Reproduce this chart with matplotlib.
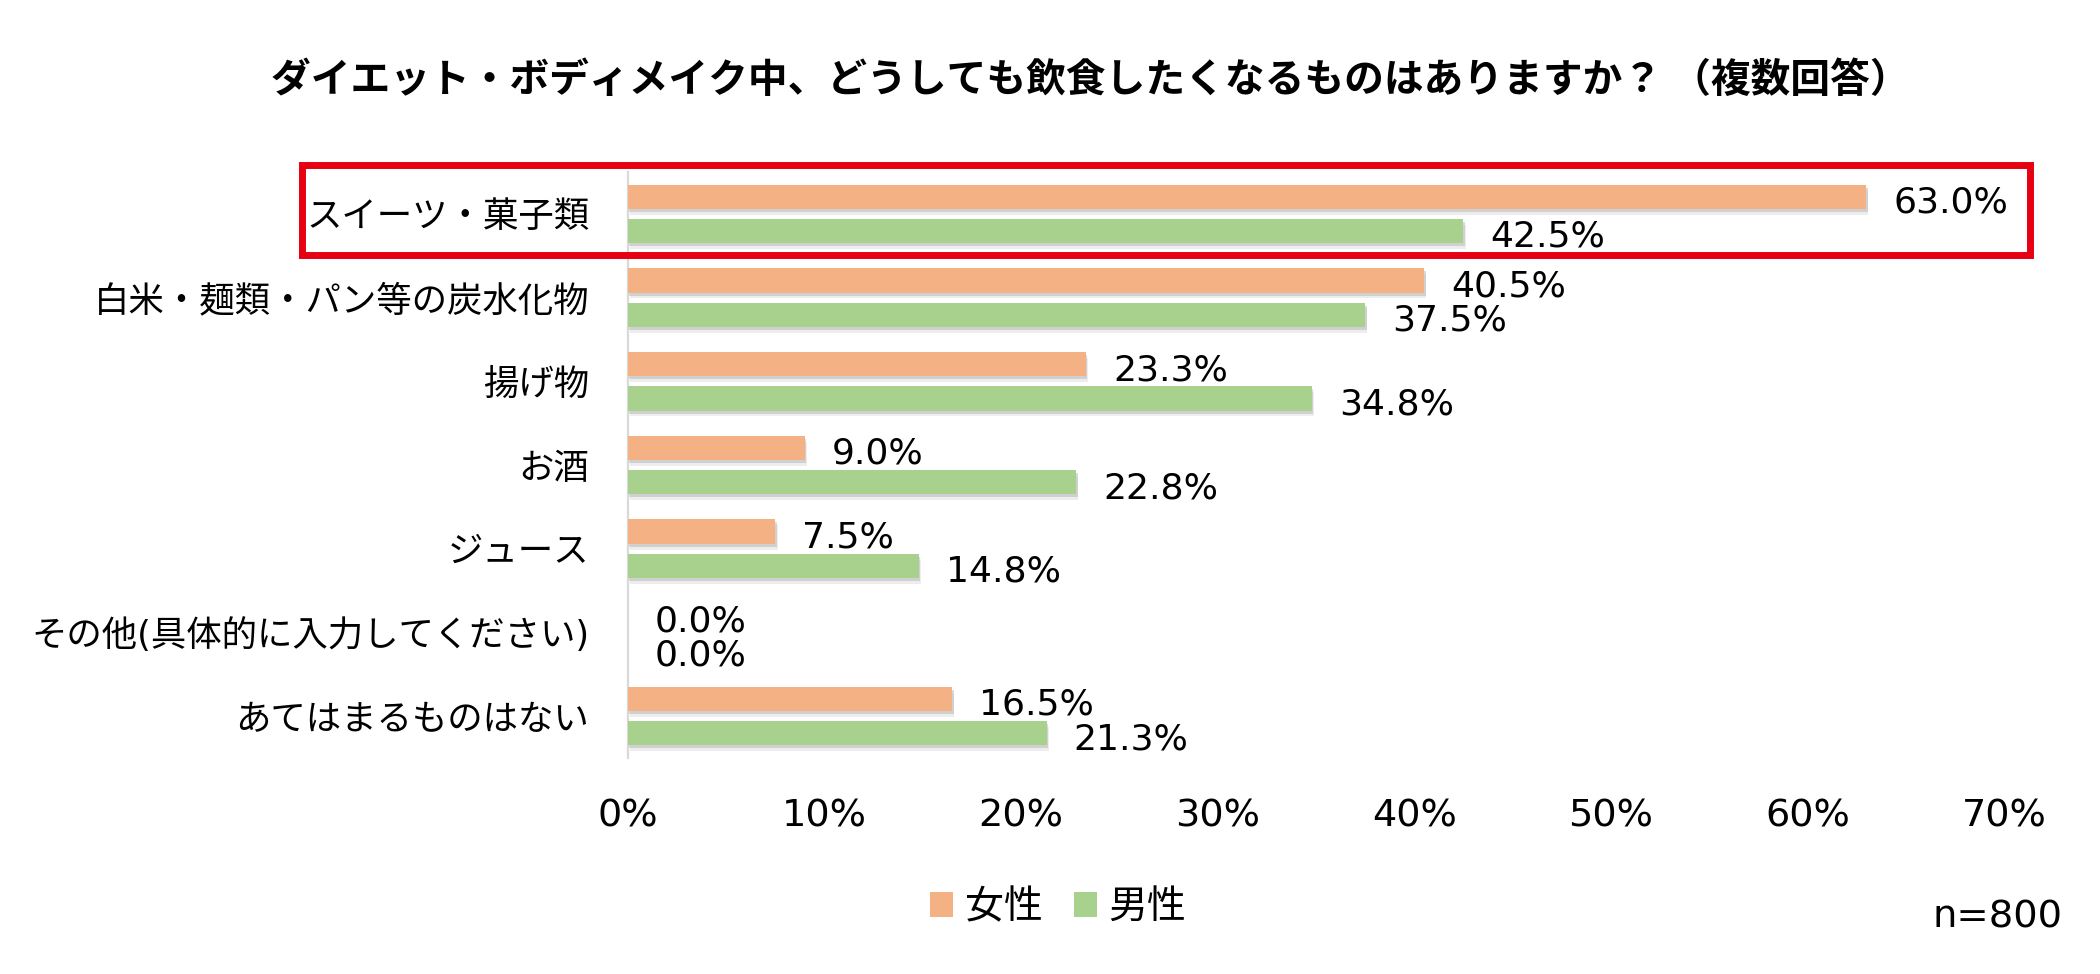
import matplotlib
matplotlib.use("Agg")
import matplotlib.pyplot as plt
import matplotlib.patheffects as pe
from matplotlib.patches import Rectangle, Patch

plt.rcParams['font.family'] = ['DejaVu Sans', 'Noto Sans CJK JP']

categories = ["スイーツ・菓子類", "白米・麺類・パン等の炭水化物", "揚げ物", "お酒", "ジュース",
              "その他(具体的に入力してください)", "あてはまるものはない"]
female = [63.0, 40.5, 23.3, 9.0, 7.5, 0.0, 16.5]
male = [42.5, 37.5, 34.8, 22.8, 14.8, 0.0, 21.3]
series_names = ["女性", "男性"]
xticks = [0, 10, 20, 30, 40, 50, 60, 70]
title = "ダイエット・ボディメイク中、どうしても飲食したくなるものはありますか？ （複数回答）"
note = "n=800"

C_F = "#F4B183"
C_M = "#A9D18E"

W, H = 2100, 974
fig = plt.figure(figsize=(W / 100, H / 100), dpi=100)
ax = fig.add_axes([628 / W, 1 - 758 / H, (2004 - 628) / W, (758 - 172) / H])

ys = list(range(len(categories)))
bh = 0.29
off = 0.205
shadow = [pe.SimplePatchShadow(offset=(1.0, -2.2), shadow_rgbFace='#7f7f7f', alpha=0.28),
          pe.SimplePatchShadow(offset=(1.5, -4.2), shadow_rgbFace='#a0a0a0', alpha=0.18),
          pe.Normal()]
bf = ax.barh([y - off for y in ys], female, height=bh, color=C_F, zorder=3)
bm = ax.barh([y + off for y in ys], male, height=bh, color=C_M, zorder=3)
for b in list(bf) + list(bm):
    if b.get_width() > 0:
        b.set_path_effects(shadow)

for vals, sign in ((female, -1), (male, 1)):
    for y, v in zip(ys, vals):
        ax.annotate(f"{v:.1f}%", xy=(v, y + sign * off), xytext=(19.4, -11.5),
                    textcoords='offset points', ha='left', va='baseline',
                    fontsize=26, color='#000000', zorder=5)

ax.set_xlim(0, 70)
ax.set_ylim(len(categories) - 0.5, -0.5)
ax.set_xticks(xticks)
ax.set_xticklabels([f"{t}%" for t in xticks], fontsize=27.5)
ax.set_yticks(ys)
ax.set_yticklabels(categories, fontsize=25.5)
ax.tick_params(axis='x', length=0, pad=29)
ax.tick_params(axis='y', length=0, pad=28)
for s in ('top', 'right', 'bottom'):
    ax.spines[s].set_visible(False)
ax.spines['left'].set_color('#D9D9D9')
ax.spines['left'].set_linewidth(1.6)

fig.text(1090 / W, 1 - 80 / H, title, ha='center', va='center',
         fontsize=28.6, fontweight='bold', family=['Noto Sans CJK JP', 'DejaVu Sans'])

handles = [Patch(facecolor=C_F, edgecolor='none'), Patch(facecolor=C_M, edgecolor='none')]
fig.legend(handles, series_names, loc='center', bbox_to_anchor=(1058 / W, 1 - 907 / H),
           ncol=2, frameon=False, fontsize=28, handlelength=0.59, handleheight=0.59,
           handletextpad=0.3, columnspacing=0.8, borderpad=0, borderaxespad=0)

fig.text(2062 / W, 1 - 927 / H, note, ha='right', va='baseline', fontsize=27.7)

fig.add_artist(Rectangle((301.5 / W, 1 - 255 / H), (2030 - 301.5) / W, (255 - 165) / H,
                         transform=fig.transFigure, fill=False, edgecolor='#E60012',
                         linewidth=5.0, zorder=10))

fig.savefig("out.png", dpi=100, facecolor='white')
